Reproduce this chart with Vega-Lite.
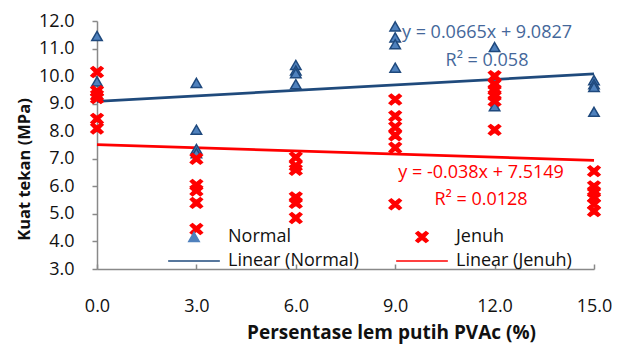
{
  "$schema": "https://vega.github.io/schema/vega-lite/v6.json",
  "width": 497,
  "height": 248,
  "autosize": {"type": "none"},
  "padding": {"left": 97, "top": 21, "right": 30, "bottom": 75},
  "background": "white",
  "config": {
    "view": {"stroke": null},
    "font": "Open Sans",
    "axis": {
      "grid": false,
      "labelFont": "Open Sans",
      "labelFontSize": 18,
      "labelColor": "#111111",
      "labelOverlap": false,
      "labelFlush": false,
      "titleFont": "Open Sans",
      "titleFontWeight": "bold",
      "titleColor": "#111111",
      "domainColor": "#898989",
      "domainWidth": 1.5,
      "tickColor": "#898989",
      "tickWidth": 1.5
    }
  },
  "datasets": {
    "pts": [
      {"series": "Normal", "x": 0, "y": 11.45},
      {"series": "Normal", "x": 0, "y": 9.8},
      {"series": "Normal", "x": 0, "y": 9.35},
      {"series": "Normal", "x": 3, "y": 9.75},
      {"series": "Normal", "x": 3, "y": 8.05},
      {"series": "Normal", "x": 3, "y": 7.35},
      {"series": "Normal", "x": 3, "y": 7.2},
      {"series": "Normal", "x": 6, "y": 10.4},
      {"series": "Normal", "x": 6, "y": 10.2},
      {"series": "Normal", "x": 6, "y": 10.1},
      {"series": "Normal", "x": 6, "y": 9.7},
      {"series": "Normal", "x": 9, "y": 11.8},
      {"series": "Normal", "x": 9, "y": 11.4},
      {"series": "Normal", "x": 9, "y": 11.15},
      {"series": "Normal", "x": 9, "y": 10.3},
      {"series": "Normal", "x": 12, "y": 11.05},
      {"series": "Normal", "x": 12, "y": 8.9},
      {"series": "Normal", "x": 15, "y": 9.85},
      {"series": "Normal", "x": 15, "y": 9.7},
      {"series": "Normal", "x": 15, "y": 9.6},
      {"series": "Normal", "x": 15, "y": 8.7},
      {"series": "Jenuh", "x": 0, "y": 10.15},
      {"series": "Jenuh", "x": 0, "y": 9.45},
      {"series": "Jenuh", "x": 0, "y": 9.3},
      {"series": "Jenuh", "x": 0, "y": 9.2},
      {"series": "Jenuh", "x": 0, "y": 8.45},
      {"series": "Jenuh", "x": 0, "y": 8.1},
      {"series": "Jenuh", "x": 3, "y": 7.0},
      {"series": "Jenuh", "x": 3, "y": 6.05},
      {"series": "Jenuh", "x": 3, "y": 5.85},
      {"series": "Jenuh", "x": 3, "y": 5.4},
      {"series": "Jenuh", "x": 3, "y": 4.45},
      {"series": "Jenuh", "x": 6, "y": 7.05},
      {"series": "Jenuh", "x": 6, "y": 6.75},
      {"series": "Jenuh", "x": 6, "y": 6.6},
      {"series": "Jenuh", "x": 6, "y": 5.6},
      {"series": "Jenuh", "x": 6, "y": 5.4},
      {"series": "Jenuh", "x": 6, "y": 4.85},
      {"series": "Jenuh", "x": 9, "y": 9.15},
      {"series": "Jenuh", "x": 9, "y": 8.55},
      {"series": "Jenuh", "x": 9, "y": 8.15},
      {"series": "Jenuh", "x": 9, "y": 7.85},
      {"series": "Jenuh", "x": 9, "y": 7.4},
      {"series": "Jenuh", "x": 9, "y": 5.35},
      {"series": "Jenuh", "x": 12, "y": 10.0},
      {"series": "Jenuh", "x": 12, "y": 9.7},
      {"series": "Jenuh", "x": 12, "y": 9.5},
      {"series": "Jenuh", "x": 12, "y": 9.3},
      {"series": "Jenuh", "x": 12, "y": 9.1},
      {"series": "Jenuh", "x": 12, "y": 8.05},
      {"series": "Jenuh", "x": 15, "y": 6.55},
      {"series": "Jenuh", "x": 15, "y": 6.0},
      {"series": "Jenuh", "x": 15, "y": 5.8},
      {"series": "Jenuh", "x": 15, "y": 5.6},
      {"series": "Jenuh", "x": 15, "y": 5.35},
      {"series": "Jenuh", "x": 15, "y": 5.1}
    ],
    "trend": [
      {"series": "Linear (Normal)", "x": 0, "y": 9.0827},
      {"series": "Linear (Normal)", "x": 15, "y": 10.08},
      {"series": "Linear (Jenuh)", "x": 0, "y": 7.5149},
      {"series": "Linear (Jenuh)", "x": 15, "y": 6.945}
    ]
  },
  "layer": [
    {
      "data": {"name": "trend"},
      "mark": {"type": "line", "strokeWidth": 2.75},
      "encoding": {
        "x": {
          "field": "x", "type": "quantitative",
          "scale": {"domain": [0, 15], "nice": false, "zero": false},
          "axis": {"values": [0, 3, 6, 9, 12, 15], "format": ".1f", "title": "Persentase lem putih PVAc (%)", "tickSize": -5, "labelPadding": 33, "labelOverlap": false, "titleFontSize": 19, "titleX": 294, "titleY": 69, "titleBaseline": "alphabetic", "titleAlign": "center", "titleAnchor": null}
        },
        "y": {
          "field": "y", "type": "quantitative",
          "scale": {"domain": [3, 12], "nice": false, "zero": false},
          "axis": {"values": [3, 4, 5, 6, 7, 8, 9, 10, 11, 12], "format": ".1f", "title": "Kuat tekan (MPa)", "tickSize": 5, "labelPadding": 18, "labelOverlap": false, "labelBound": false, "titleFontSize": 16.5, "titleX": -73, "titleY": 148, "titleAngle": -90, "titleAlign": "center", "titleBaseline": "middle"}
        },
        "color": {
          "field": "series", "type": "nominal",
          "scale": {
            "domain": ["Normal", "Jenuh", "Linear (Normal)", "Linear (Jenuh)"],
            "range": ["#4F81BD", "#FF0000", "#1F4A7C", "#FF0000"]
          }
        }
      }
    },
    {
      "data": {"name": "pts"},
      "mark": {"type": "point", "filled": true, "opacity": 1, "size": 121, "strokeWidth": 1.5},
      "encoding": {
        "x": {
          "field": "x", "type": "quantitative",
          "axis": {"values": [0, 3, 6, 9, 12, 15], "format": ".1f", "title": "Persentase lem putih PVAc (%)", "tickSize": -5, "labelPadding": 33, "labelOverlap": false, "titleFontSize": 19, "titleX": 294, "titleY": 69, "titleBaseline": "alphabetic", "titleAlign": "center", "titleAnchor": null}
        },
        "y": {
          "field": "y", "type": "quantitative",
          "axis": {"values": [3, 4, 5, 6, 7, 8, 9, 10, 11, 12], "format": ".1f", "title": "Kuat tekan (MPa)", "tickSize": 5, "labelPadding": 18, "labelOverlap": false, "labelBound": false, "titleFontSize": 16.5, "titleX": -73, "titleY": 148, "titleAngle": -90, "titleAlign": "center", "titleBaseline": "middle"}
        },
        "color": {
          "field": "series", "type": "nominal",
          "legend": {
            "title": null,
            "orient": "none",
            "legendX": 88,
            "legendY": 207,
            "columns": 2,
            "direction": "horizontal",
            "symbolSize": 121,
            "labelFont": "Open Sans",
            "labelFontSize": 18,
            "labelColor": "#111111",
            "labelOffset": 25,
            "columnPadding": 34,
            "rowPadding": 6,
            "padding": 0,
            "encode": {
              "symbols": {
                "update": {
                  "fill": [{"test": "indexof(datum.value,'Linear')>=0", "value": "transparent"}, {"scale": "color", "field": "value"}],
                  "stroke": [{"test": "datum.value==='Normal'", "value": "#1F497D"}, {"scale": "color", "field": "value"}],
                  "strokeWidth": [{"test": "indexof(datum.value,'Linear')>=0", "value": 3}, {"value": 1.5}],
                  "shape": {"scale": "shape", "field": "value"},
                  "opacity": {"value": 1}
                }
              }
            }
          }
        },
        "shape": {
          "field": "series", "type": "nominal",
          "scale": {
            "domain": ["Normal", "Jenuh", "Linear (Normal)", "Linear (Jenuh)"],
            "range": [
              "M0,-0.85L0.95,0.8L-0.95,0.8Z",
              "M-1.1,-0.65L-0.7,-0.95L0,-0.4L0.7,-0.95L1.1,-0.65L0.45,0L1.1,0.65L0.7,0.95L0,0.4L-0.7,0.95L-1.1,0.65L-0.45,0Z",
              "M-4.7,0L4.7,0",
              "M-4.7,0L4.7,0"
            ]
          }
        },
        "stroke": {
          "field": "series", "type": "nominal",
          "scale": {"domain": ["Normal", "Jenuh"], "range": ["#1F497D", "#FF0000"]},
          "legend": null
        }
      }
    },
    {
      "data": {"values": [{"label": "y = 0.0665x + 9.0827"}]},
      "mark": {"type": "text", "fontSize": 18, "color": "#44679A", "align": "center", "baseline": "middle"},
      "encoding": {
        "text": {"field": "label"},
        "x": {"datum": 11.77, "type": "quantitative", "axis": {"values": [0, 3, 6, 9, 12, 15], "format": ".1f", "title": "Persentase lem putih PVAc (%)", "tickSize": -5, "labelPadding": 33, "labelOverlap": false, "titleFontSize": 19, "titleX": 294, "titleY": 69, "titleBaseline": "alphabetic", "titleAlign": "center", "titleAnchor": null}},
        "y": {"datum": 11.565, "type": "quantitative", "axis": {"values": [3, 4, 5, 6, 7, 8, 9, 10, 11, 12], "format": ".1f", "title": "Kuat tekan (MPa)", "tickSize": 5, "labelPadding": 18, "labelOverlap": false, "labelBound": false, "titleFontSize": 16.5, "titleX": -73, "titleY": 148, "titleAngle": -90, "titleAlign": "center", "titleBaseline": "middle"}}
      }
    },
    {
      "data": {"values": [{"label": "R² = 0.058"}]},
      "mark": {"type": "text", "fontSize": 18, "color": "#44679A", "align": "center", "baseline": "middle"},
      "encoding": {
        "text": {"field": "label"},
        "x": {"datum": 11.77, "type": "quantitative", "axis": {"values": [0, 3, 6, 9, 12, 15], "format": ".1f", "title": "Persentase lem putih PVAc (%)", "tickSize": -5, "labelPadding": 33, "labelOverlap": false, "titleFontSize": 19, "titleX": 294, "titleY": 69, "titleBaseline": "alphabetic", "titleAlign": "center", "titleAnchor": null}},
        "y": {"datum": 10.55, "type": "quantitative", "axis": {"values": [3, 4, 5, 6, 7, 8, 9, 10, 11, 12], "format": ".1f", "title": "Kuat tekan (MPa)", "tickSize": 5, "labelPadding": 18, "labelOverlap": false, "labelBound": false, "titleFontSize": 16.5, "titleX": -73, "titleY": 148, "titleAngle": -90, "titleAlign": "center", "titleBaseline": "middle"}}
      }
    },
    {
      "data": {"values": [{"label": "y = -0.038x + 7.5149"}]},
      "mark": {"type": "text", "fontSize": 18, "color": "#FF0000", "align": "center", "baseline": "middle"},
      "encoding": {
        "text": {"field": "label"},
        "x": {"datum": 11.59, "type": "quantitative", "axis": {"values": [0, 3, 6, 9, 12, 15], "format": ".1f", "title": "Persentase lem putih PVAc (%)", "tickSize": -5, "labelPadding": 33, "labelOverlap": false, "titleFontSize": 19, "titleX": 294, "titleY": 69, "titleBaseline": "alphabetic", "titleAlign": "center", "titleAnchor": null}},
        "y": {"datum": 6.485, "type": "quantitative", "axis": {"values": [3, 4, 5, 6, 7, 8, 9, 10, 11, 12], "format": ".1f", "title": "Kuat tekan (MPa)", "tickSize": 5, "labelPadding": 18, "labelOverlap": false, "labelBound": false, "titleFontSize": 16.5, "titleX": -73, "titleY": 148, "titleAngle": -90, "titleAlign": "center", "titleBaseline": "middle"}}
      }
    },
    {
      "data": {"values": [{"label": "R² = 0.0128"}]},
      "mark": {"type": "text", "fontSize": 18, "color": "#FF0000", "align": "center", "baseline": "middle"},
      "encoding": {
        "text": {"field": "label"},
        "x": {"datum": 11.59, "type": "quantitative", "axis": {"values": [0, 3, 6, 9, 12, 15], "format": ".1f", "title": "Persentase lem putih PVAc (%)", "tickSize": -5, "labelPadding": 33, "labelOverlap": false, "titleFontSize": 19, "titleX": 294, "titleY": 69, "titleBaseline": "alphabetic", "titleAlign": "center", "titleAnchor": null}},
        "y": {"datum": 5.505, "type": "quantitative", "axis": {"values": [3, 4, 5, 6, 7, 8, 9, 10, 11, 12], "format": ".1f", "title": "Kuat tekan (MPa)", "tickSize": 5, "labelPadding": 18, "labelOverlap": false, "labelBound": false, "titleFontSize": 16.5, "titleX": -73, "titleY": 148, "titleAngle": -90, "titleAlign": "center", "titleBaseline": "middle"}}
      }
    }
  ]
}
